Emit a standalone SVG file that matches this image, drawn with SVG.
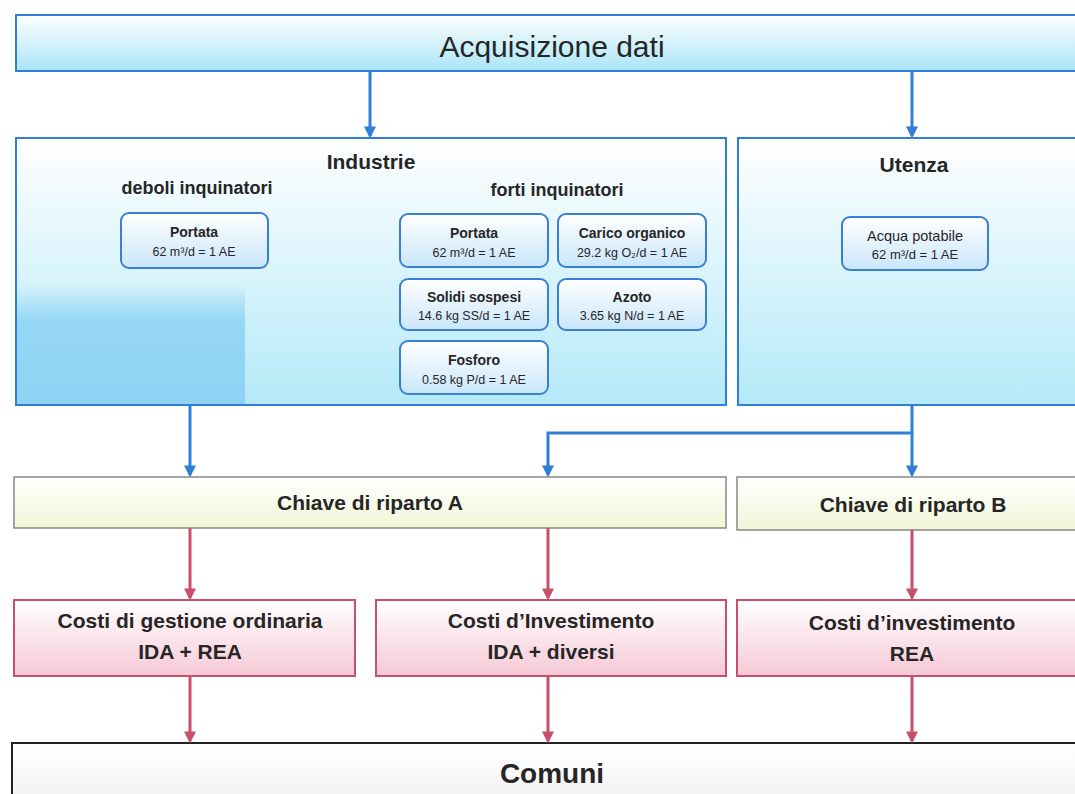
<svg xmlns="http://www.w3.org/2000/svg" width="1075" height="794" viewBox="0 0 1075 794">
<style>
  text { font-family: "Liberation Sans", Arial, sans-serif; fill: #262626; text-anchor: middle; }
  .title { font-size: 30px; }
  .h { font-size: 21px; font-weight: bold; }
  .sub { font-size: 18px; font-weight: bold; }
  .st { font-size: 14px; font-weight: bold; }
  .sv { font-size: 12.5px; }
  .cost { font-size: 21px; font-weight: bold; }
  .blue { stroke: #2f7fd6; stroke-width: 3; fill: none; }
  .red { stroke: #c8506a; stroke-width: 3; fill: none; }
  .small { fill: url(#gSmall); stroke: #3a7fd5; stroke-width: 2; }
</style>
<defs>
  <linearGradient id="gTop" x1="0" y1="0" x2="0" y2="1">
    <stop offset="0" stop-color="#ffffff"/>
    <stop offset="1" stop-color="#a9e5f7"/>
  </linearGradient>
  <linearGradient id="gPanel" x1="0" y1="0" x2="0" y2="1">
    <stop offset="0" stop-color="#ffffff"/>
    <stop offset="1" stop-color="#b4e9f8"/>
  </linearGradient>
  <linearGradient id="gSmall" x1="0" y1="0" x2="0" y2="1">
    <stop offset="0" stop-color="#ffffff"/>
    <stop offset="1" stop-color="#c9e6fb"/>
  </linearGradient>
  <linearGradient id="gFade" x1="0" y1="0" x2="0" y2="1">
    <stop offset="0" stop-color="#90d4f4" stop-opacity="0"/>
    <stop offset="0.3" stop-color="#90d4f4" stop-opacity="0.9"/>
    <stop offset="1" stop-color="#8fd2f3" stop-opacity="1"/>
  </linearGradient>
  <linearGradient id="gKey" x1="0" y1="0" x2="0" y2="1">
    <stop offset="0" stop-color="#ffffff"/>
    <stop offset="1" stop-color="#f1f6d6"/>
  </linearGradient>
  <linearGradient id="gCost" x1="0" y1="0" x2="0" y2="1">
    <stop offset="0" stop-color="#ffffff"/>
    <stop offset="1" stop-color="#f6c9d6"/>
  </linearGradient>
  <linearGradient id="gCom" x1="0" y1="0" x2="0" y2="1">
    <stop offset="0" stop-color="#ffffff"/>
    <stop offset="1" stop-color="#f2f2f2"/>
  </linearGradient>
  <marker id="ab" viewBox="0 0 10 10" refX="8" refY="5" markerWidth="4" markerHeight="4" orient="auto">
    <path d="M0,0 L10,5 L0,10 z" fill="#2f7fd6"/>
  </marker>
  <marker id="ar" viewBox="0 0 10 10" refX="8" refY="5" markerWidth="4" markerHeight="4" orient="auto">
    <path d="M0,0 L10,5 L0,10 z" fill="#c8506a"/>
  </marker>
</defs>

<g id="acquisizione">
  <rect x="16" y="15" width="1075" height="56" fill="url(#gTop)" stroke="#2f7fd6" stroke-width="2"/>
  <text class="title" x="552" y="57">Acquisizione dati</text>
</g>

<g id="industrie">
  <rect x="16" y="138" width="710" height="267" fill="url(#gPanel)" stroke="#2f7fd6" stroke-width="2"/>
  <rect x="17" y="285" width="228" height="119" fill="url(#gFade)"/>
  <text class="h" x="371" y="169">Industrie</text>
  <text class="sub" x="197" y="194">deboli inquinatori</text>
  <text class="sub" x="557" y="196">forti inquinatori</text>
</g>

<g id="deboli-portata">
  <rect class="small" x="121" y="213" width="147" height="55" rx="8"/>
  <text class="st" x="194" y="237">Portata</text>
  <text class="sv" x="194" y="256">62 m³/d = 1 AE</text>
</g>

<g id="forti-portata">
  <rect class="small" x="400" y="214" width="148" height="53" rx="8"/>
  <text class="st" x="474" y="238">Portata</text>
  <text class="sv" x="474" y="257">62 m³/d = 1 AE</text>
</g>

<g id="carico-organico">
  <rect class="small" x="558" y="214" width="148" height="53" rx="8"/>
  <text class="st" x="632" y="238">Carico organico</text>
  <text class="sv" x="632" y="257">29.2 kg O₂/d = 1 AE</text>
</g>

<g id="solidi-sospesi">
  <rect class="small" x="400" y="279" width="148" height="51" rx="8"/>
  <text class="st" x="474" y="302">Solidi sospesi</text>
  <text class="sv" x="474" y="320">14.6 kg SS/d = 1 AE</text>
</g>

<g id="azoto">
  <rect class="small" x="558" y="279" width="148" height="51" rx="8"/>
  <text class="st" x="632" y="302">Azoto</text>
  <text class="sv" x="632" y="320">3.65 kg N/d = 1 AE</text>
</g>

<g id="fosforo">
  <rect class="small" x="400" y="341" width="148" height="53" rx="8"/>
  <text class="st" x="474" y="365">Fosforo</text>
  <text class="sv" x="474" y="384">0.58 kg P/d = 1 AE</text>
</g>

<g id="utenza">
  <rect x="738" y="138" width="345" height="267" fill="url(#gPanel)" stroke="#2f7fd6" stroke-width="2"/>
  <text class="h" x="914" y="172">Utenza</text>
</g>

<g id="acqua-potabile">
  <rect class="small" x="842" y="217" width="146" height="53" rx="8"/>
  <text x="915" y="241" style="font-size:14.5px">Acqua potabile</text>
  <text x="915" y="259" style="font-size:13px">62 m³/d = 1 AE</text>
</g>

<g id="chiave-a">
  <rect x="14" y="477" width="712" height="51" fill="url(#gKey)" stroke="#888" stroke-width="1.5"/>
  <text class="cost" x="370" y="510">Chiave di riparto A</text>
</g>

<g id="chiave-b">
  <rect x="737" y="477" width="345" height="53" fill="url(#gKey)" stroke="#888" stroke-width="1.5"/>
  <text class="cost" x="913" y="512">Chiave di riparto B</text>
</g>

<g id="costi-gestione">
  <rect x="14" y="600" width="341" height="76" fill="url(#gCost)" stroke="#c8506a" stroke-width="2"/>
  <text class="cost" x="190" y="628">Costi di gestione ordinaria</text>
  <text class="cost" x="190" y="659">IDA + REA</text>
</g>

<g id="costi-investimento-a">
  <rect x="376" y="600" width="350" height="76" fill="url(#gCost)" stroke="#c8506a" stroke-width="2"/>
  <text class="cost" x="551" y="628">Costi d’Investimento</text>
  <text class="cost" x="551" y="659">IDA + diversi</text>
</g>

<g id="costi-investimento-b">
  <rect x="737" y="600" width="345" height="76" fill="url(#gCost)" stroke="#c8506a" stroke-width="2"/>
  <text class="cost" x="912" y="630">Costi d’investimento</text>
  <text class="cost" x="912" y="661">REA</text>
</g>

<g id="comuni">
  <rect x="12" y="743" width="1075" height="60" fill="url(#gCom)" stroke="#222" stroke-width="2"/>
  <text x="552" y="783" style="font-size:28px;font-weight:bold">Comuni</text>
</g>

<g id="connectors">
  <path class="blue" d="M370,72 V136" marker-end="url(#ab)"/>
  <path class="blue" d="M912,72 V136" marker-end="url(#ab)"/>
  <path class="blue" d="M190,405 V475" marker-end="url(#ab)"/>
  <path class="blue" d="M912,405 V433 H548 V475" marker-end="url(#ab)"/>
  <path class="blue" d="M912,433 V475" marker-end="url(#ab)"/>
  <path class="red" d="M190,528 V598" marker-end="url(#ar)"/>
  <path class="red" d="M548,528 V598" marker-end="url(#ar)"/>
  <path class="red" d="M912,530 V598" marker-end="url(#ar)"/>
  <path class="red" d="M190,676 V741" marker-end="url(#ar)"/>
  <path class="red" d="M548,676 V741" marker-end="url(#ar)"/>
  <path class="red" d="M912,676 V741" marker-end="url(#ar)"/>
</g>
</svg>
